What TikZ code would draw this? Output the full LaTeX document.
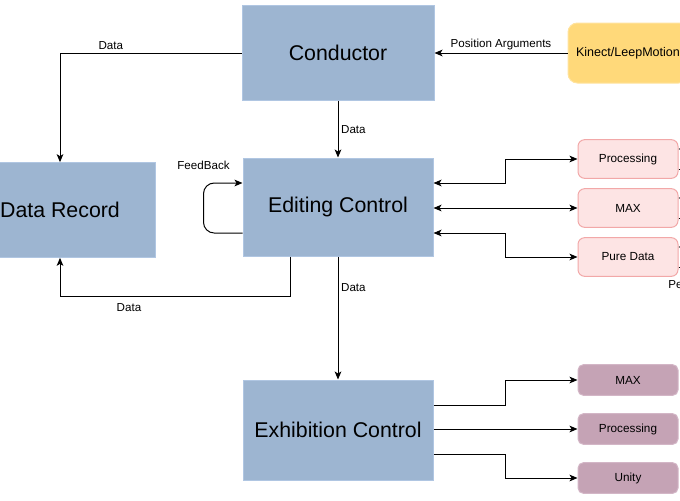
\documentclass[tikz,border=0pt]{standalone}
\usepackage{fontspec}
\setmainfont{Liberation Sans}
\usetikzlibrary{arrows.meta}
\definecolor{blockfill}{HTML}{9DB5D1}
\definecolor{blockline}{HTML}{B0C6E2}
\definecolor{sensorfill}{HTML}{FFD97A}
\definecolor{sensorline}{HTML}{FFE39E}
\definecolor{toolfill}{HTML}{FDE4E4}
\definecolor{toolline}{HTML}{F2A8A8}
\definecolor{showfill}{HTML}{C5A3B5}
\definecolor{showline}{HTML}{D3B6C6}
\tikzstyle{block} = [rectangle, minimum width=142.5pt, minimum height=71pt, text centered, fill=blockfill, draw=blockline, line width=0.75pt, font=\fontsize{16}{19}\selectfont]
\tikzstyle{sensor} = [rectangle, rounded corners=7pt, minimum width=90pt, minimum height=45pt, text centered, fill=sensorfill, draw=sensorline, line width=0.75pt, font=\fontsize{9.4}{11}\selectfont]
\tikzstyle{tool} = [rectangle, rounded corners=5pt, minimum width=75pt, minimum height=29pt, text centered, fill=toolfill, draw=toolline, line width=0.75pt, font=\fontsize{8.8}{10}\selectfont]
\tikzstyle{show} = [rectangle, rounded corners=4pt, minimum width=75pt, minimum height=23pt, text centered, fill=showfill, draw=showline, line width=0.75pt, font=\fontsize{8.8}{10}\selectfont]
\tikzstyle{lbl} = [font=\fontsize{8.7}{10}\selectfont, inner sep=2pt]
\tikzstyle{arrow} = [line width=0.75pt, ->, >={Stealth[length=6pt, width=5pt, inset=1.5pt]}]
\tikzstyle{biarrow} = [line width=0.75pt, <->, >={Stealth[length=6pt, width=5pt, inset=1.5pt]}]
\begin{document}
\begin{tikzpicture}[x=0.75pt, y=-0.75pt]

    \useasboundingbox (0,0) rectangle (680,500);

    \node (conductor) [block, minimum width=144pt] at (338,53) {Conductor};
    \node (editing) [block, minimum height=73.5pt] at (338,207) {Editing Control};
    \node (record) [block] at (60,210) {Data Record};
    \node (exhibition) [block, minimum height=75pt] at (338,430) {Exhibition Control};
    \node (kinect) [sensor] at (628,53) {Kinect/LeepMotion};

    \node (proc1) [tool] at (628,159) {Processing};
    \node (max1) [tool] at (628,208) {MAX};
    \node (pd) [tool] at (628,257) {Pure Data};

    \node (max2) [show] at (628,380) {MAX};
    \node (proc2) [show] at (628,429) {Processing};
    \node (unity) [show] at (628,478) {Unity};

    \node (perf) [lbl, anchor=west, inner sep=0pt] at (668,285) {Pe};

    \draw [arrow] (kinect) -- node[lbl, above] {Position Arguments} (conductor);
    \draw [arrow] (conductor.west) -| node[lbl, above, pos=0.36] {Data} (record.north);
    \draw [arrow] (conductor) -- node[lbl, right] {Data} (editing);
    \draw [arrow, rounded corners=8pt] (editing.west |- 0,233) -- ++(-39,0) |- node[lbl, above=8pt, pos=0.5] {FeedBack} (editing.west |- 0,183);
    \draw [arrow] (editing.south -| 290,0) -- ++(0,40) -| node[lbl, below=3pt, pos=0.35] {Data} (record.south);
    \draw [arrow] (editing) -- node[lbl, right, pos=0.25] {Data} (exhibition);

    \draw [biarrow] (editing.east |- 0,183) -- ++(72,0) |- (proc1.west);
    \draw [biarrow] (editing.east |- max1.west) -- (max1.west);
    \draw [biarrow] (editing.east |- 0,233) -- ++(72,0) |- (pd.west);

    \draw [arrow] (exhibition.east |- 0,405) -- ++(72,0) |- (max2.west);
    \draw [arrow] (exhibition.east |- proc2.west) -- (proc2.west);
    \draw [arrow] (exhibition.east |- 0,454) -- ++(72,0) |- (unity.west);

    % connectors leaving the page on the right
    \foreach \n in {proc1,max1,pd} {
        \draw [arrow] ([xshift=15pt, yshift=7.5pt]\n.east) -- ([yshift=7.5pt]\n.east);
        \draw [line width=0.75pt] ([yshift=-7.5pt]\n.east) -- ++(20,0);
    }

  \end{tikzpicture}
\end{document}
